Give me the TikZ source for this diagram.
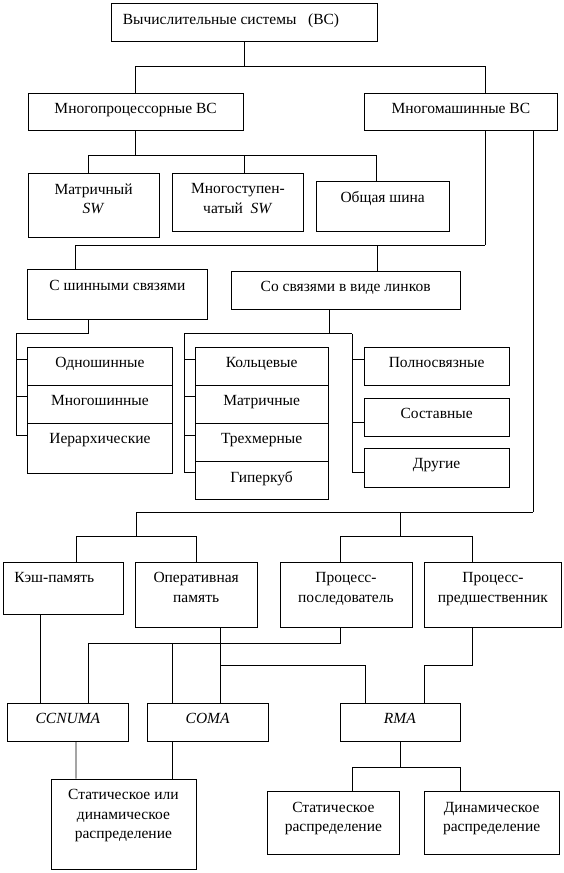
\documentclass[tikz,border=0pt]{standalone}
\usepackage{fontspec}
\setmainfont{Liberation Serif}
\usepackage{tikz}

\begin{document}
\begin{tikzpicture}[-,x=1pt,y=-1pt,line width=0.8pt,
                    every node/.style={font=\fontsize{15.5}{19.5}\selectfont},
                    box/.style={draw,anchor=north west,inner sep=0pt},
                    lbl/.style={anchor=north,yshift=-10.5pt,inner sep=0pt,align=center}]
\useasboundingbox (0,0) rectangle (563,873);

\node[box,minimum width=266pt,minimum height=38.5pt,
      label={[lbl,anchor=north west,xshift=12pt]north west:{Вычислительные системы~~~(ВС)}}] (ComputingSystems) at (110.5,2.5) {};

\node[box,minimum width=215.5pt,minimum height=37.5pt,label={[lbl]north:Многопроцессорные ВС}] (MultiProc) at (27.5,92.5) {};
\node[box,minimum width=193pt,minimum height=37.5pt,label={[lbl]north:Многомашинные ВС}] (MultiMachine) at (364,92.5) {};

\node[box,minimum width=131.5pt,minimum height=64.5pt,label={[lbl]north:Матричный\\\textit{SW}}] (MatrixSW) at (27.5,172.5) {};
\node[box,minimum width=131pt,minimum height=58.5pt,label={[lbl]north:Многоступен-\\чатый~~\textit{SW}}] (MultiStageSW) at (172,172.5) {};
\node[box,minimum width=133.5pt,minimum height=50pt,label={[lbl]north:Общая шина}] (CommonBus) at (315.5,181) {};

\node[box,minimum width=180pt,minimum height=49.5pt,label={[lbl]north:С шинными связями}] (BusLinked) at (27,269) {};
\node[box,minimum width=228.5pt,minimum height=38pt,label={[lbl]north:Со связями в виде линков}] (LinkLinked) at (231,270.5) {};

\foreach \name/\txt/\y/\h in {SingleBus/Одношинные/346.5/38pt,MultiBus/Многошинные/384.5/38pt,HierBus/Иерархические/422.5/50pt}
   \node[box,minimum width=145pt,minimum height=\h,label={[lbl]north:\txt}] (\name) at (27,\y) {};

\foreach \name/\txt/\y in {Ring/Кольцевые/346.5,MatrixLink/Матричные/384.5,Cube3D/Трехмерные/422.5,Hypercube/Гиперкуб/460.5}
   \node[box,minimum width=132.5pt,minimum height=38pt,label={[lbl]north:\txt}] (\name) at (195,\y) {};

\foreach \name/\txt/\y/\h in {FullyConn/Полносвязные/346.5/38pt,Composite/Составные/397.5/38pt,OtherLink/Другие/447.5/39pt}
   \node[box,minimum width=144.5pt,minimum height=\h,label={[lbl]north:\txt}] (\name) at (364,\y) {};

\node[box,minimum width=120pt,minimum height=52pt,
      label={[lbl,anchor=north west,xshift=11pt]north west:Кэш-память}] (Cache) at (3,561.5) {};
\node[box,minimum width=121.5pt,minimum height=65pt,label={[lbl]north:Оперативная\\память}] (MainMemory) at (135,561.5) {};
\node[box,minimum width=132pt,minimum height=65pt,label={[lbl]north:Процесс-\\последователь}] (Successor) at (279.5,561.5) {};
\node[box,minimum width=137pt,minimum height=65pt,label={[lbl]north:Процесс-\\предшественник}] (Predecessor) at (424,561.5) {};

\node[box,minimum width=121pt,minimum height=38pt,label={[lbl]north:\textit{CCNUMA}}] (CCNUMA) at (7,702.5) {};
\node[box,minimum width=120.5pt,minimum height=38pt,label={[lbl]north:\textit{COMA}}] (COMA) at (147,702.5) {};
\node[box,minimum width=120pt,minimum height=38pt,label={[lbl]north:\textit{RMA}}] (RMA) at (339.5,702.5) {};

\node[box,minimum width=145pt,minimum height=90.5pt,label={[lbl]north:Статическое или\\динамическое\\распределение}] (StatOrDyn) at (50.5,778.5) {};
\node[box,minimum width=132pt,minimum height=63pt,label={[lbl]north:Статическое\\распределение}] (StatDist) at (267,791) {};
\node[box,minimum width=134.5pt,minimum height=63pt,label={[lbl]north:Динамическое\\распределение}] (DynDist) at (424,791) {};

% upper tree
\draw (ComputingSystems.south) -- ++(0,24.7) coordinate (TopBus);
\draw (MultiProc.north) |- (TopBus) -| ([xshift=24pt]MultiMachine.north);

\draw (MultiProc.south) -- ++(0,25) coordinate (ProcBus);
\foreach \n/\s in {MatrixSW/-5.75pt,MultiStageSW/6.5pt,CommonBus/-6pt}
   \draw ([xshift=\s]\n.north) |- (ProcBus);

\draw ([xshift=24pt]MultiMachine.south) -- ++(0,114.5) coordinate (MachBus);
\draw ([xshift=-42pt]BusLinked.north) |- (MachBus);
\draw ([xshift=31.5pt]LinkLinked.north) |- (MachBus);

\draw ([xshift=-29.5pt]BusLinked.south) |- ++(-71.5,14.5) coordinate (BusSpine);
\foreach \n/\s in {SingleBus/12.5pt,MultiBus/12.2pt,HierBus/12.5pt}
   \draw (BusSpine) |- ([yshift=-\s]\n.north west);

\draw ([xshift=-16.75pt]LinkLinked.south) -- ++(0,24.5) coordinate (LinkBus);
\draw (LinkBus) -- ++(-144.8,0) coordinate (RingSpine);
\draw (LinkBus) -- ++(23.1,0) coordinate (FullSpine);
\foreach \n/\s in {Ring/12.5pt,MatrixLink/12.2pt,Cube3D/12.5pt,Hypercube/12pt}
   \draw (RingSpine) |- ([yshift=-\s]\n.north west);
\foreach \n/\s in {FullyConn/12.5pt,Composite/24.8pt,OtherLink/25pt}
   \draw (FullSpine) |- ([yshift=-\s]\n.north west);

% lower tree
\draw ([xshift=72pt]MultiMachine.south) -- ++(0,381.5) coordinate (MemBus);
\draw (MemBus) -- ++(-396.5,0) -- ++(0,24.5) coordinate (StoreSplit);
\draw ([xshift=13pt]Cache.north) |- (StoreSplit);
\draw (MainMemory.north) |- (StoreSplit);
\draw (MemBus) ++(-132.3,0) -- ++(0,24.5) coordinate (ProcSplit);
\draw ([xshift=-5.5pt]Successor.north) |- (ProcSplit);
\draw ([xshift=-20.2pt]Predecessor.north) |- (ProcSplit);

\draw ([xshift=-23.4pt]Cache.south) -- ([xshift=-27.9pt]CCNUMA.north);
\draw ([xshift=24pt]MainMemory.south) -- ++(0,37.8) coordinate (MemTap) -- ([xshift=12.5pt]COMA.north);
\draw (MemTap) -| ([xshift=-34.9pt]RMA.north);

\draw ([xshift=-5.5pt]Successor.south) -- ++(0,16.2) coordinate (SuccTap);
\draw ([xshift=20pt]CCNUMA.north) |- (SuccTap);
\draw ([xshift=-35.75pt]COMA.north) |- (SuccTap);

\draw ([xshift=-20.2pt]Predecessor.south) -- ++(0,37.8) -| ([xshift=24.5pt]RMA.north);

\draw ([xshift=8pt]CCNUMA.south) -- ([xshift=-47.4pt]StatOrDyn.north);
\draw ([xshift=-35.75pt]COMA.south) -- ([xshift=48.5pt]StatOrDyn.north);

\draw (RMA.south) -- ++(0,26) coordinate (RmaSplit);
\draw ([xshift=19.3pt]StatDist.north) |- (RmaSplit);
\draw ([xshift=-31.7pt]DynDist.north) |- (RmaSplit);

\end{tikzpicture}
\end{document}
